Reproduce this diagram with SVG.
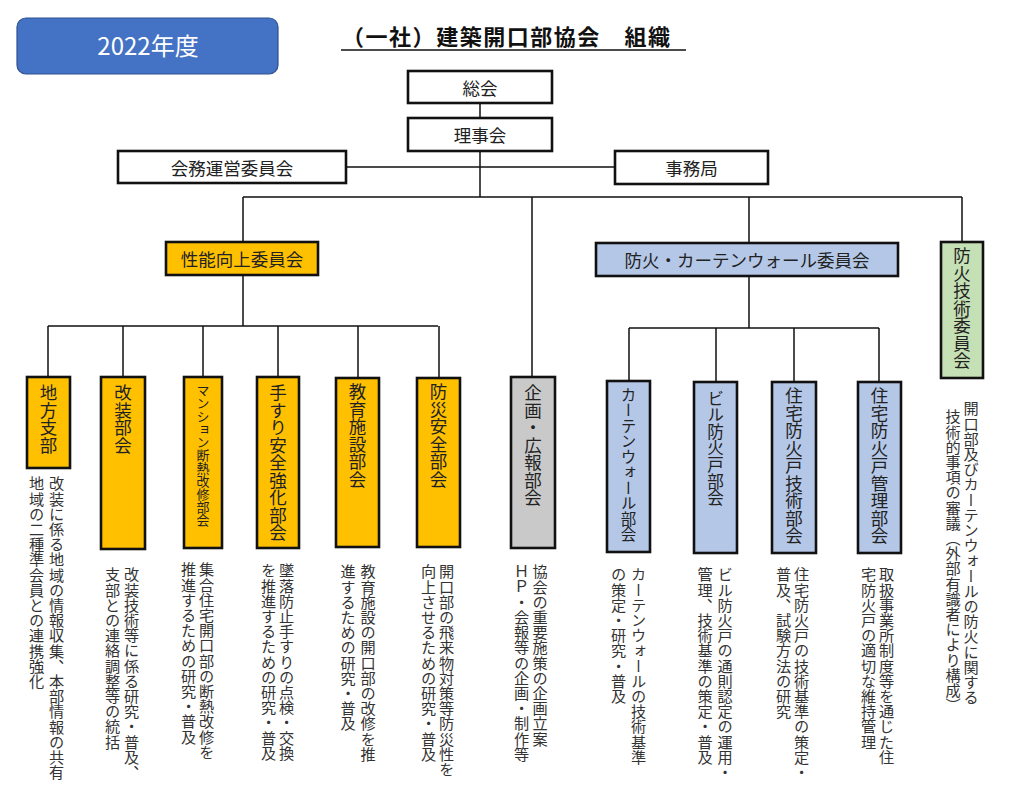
<svg xmlns="http://www.w3.org/2000/svg" width="1010" height="800" viewBox="0 0 1010 800">
<style>
text{font-family:"Noto Sans CJK JP","Noto Sans",sans-serif;}
.box{stroke:#111;stroke-width:2.6;}
.w{fill:#fff;}
.o{fill:#FFC000;}
.b{fill:#B4C7E7;}
.g{fill:#C9C9C9;}
.gr{fill:#C5E0B4;}
.lh{font-size:17.5px;fill:#222;text-anchor:middle;dominant-baseline:central;}
.lv{font-size:17.5px;fill:#222;writing-mode:vertical-rl;}
.d{font-size:15.2px;fill:#333;writing-mode:vertical-rl;}
.cn{fill:none;stroke:#111;stroke-width:1.5;}
</style>
<rect width="1010" height="800" fill="#fff"/>
<g id="year">
<rect x="17" y="18" width="261" height="56" rx="9" fill="#4472C4" stroke="#2F528F" stroke-width="1.2"/>
<text x="148" y="55" font-size="24" fill="#fff" text-anchor="middle">2022年度</text>
</g>
<g id="title">
<text x="342" y="45" font-size="22" font-weight="bold" fill="#111" textLength="328" lengthAdjust="spacing">（一社）建築開口部協会　組織</text>
<line x1="341" y1="50" x2="686" y2="50" stroke="#111" stroke-width="1.5"/>
</g>
<g id="connectors" class="cn">
<path d="M480,103V118M480,151V197M346,167H615M243,197H962M243,197V242M532,197V377M749,197V243M962,197V242"/>
<path d="M243,275V326M48,326H438M48,326V377M123,326V377M203,326V377M278,326V377M358,326V378M439,326V378"/>
<path d="M749,276V328M629,328H879M629,328V381M716,328V382M794,328V382M879,328V382"/>
</g>
<g id="soukai"><rect class="box w" x="408" y="71" width="144" height="32"/><text class="lh" x="480" y="87">総会</text></g>
<g id="rijikai"><rect class="box w" x="408" y="118" width="144" height="33"/><text class="lh" x="480" y="134.5">理事会</text></g>
<g id="kaimu"><rect class="box w" x="118" y="151" width="228" height="32"/><text class="lh" x="232" y="167">会務運営委員会</text></g>
<g id="jimukyoku"><rect class="box w" x="615" y="151" width="153" height="33"/><text class="lh" x="691.5" y="167.5">事務局</text></g>
<g id="seino"><rect class="box o" x="166" y="242" width="152" height="33"/><text class="lh" x="242" y="258.5">性能向上委員会</text></g>
<g id="bouka-cw"><rect class="box b" x="596" y="243" width="302" height="33"/><text class="lh" x="747" y="259.5">防火・カーテンウォール委員会</text></g>
<g id="bouka-gijutsu">
<rect class="box gr" x="941" y="242" width="42" height="136"/>
<text class="lv" x="962" y="247">防火技術委員会</text>
<text class="d" x="971" y="401">開口部及びカーテンウォールの防火に関する</text>
<text class="d" x="953" y="409">技術的事項の審議（外部有識者により構成）</text>
</g>
<g id="chiho">
<rect class="box o" x="27" y="377" width="43" height="91"/>
<text class="lv" x="48.5" y="384">地方支部</text>
<text class="d" x="56.5" y="476">改装に係る地域の情報収集、本部情報の共有</text>
<text class="d" x="36.5" y="476">地域の二種準会員との連携強化</text>
</g>
<g id="kaiso">
<rect class="box o" x="101" y="377" width="44" height="172"/>
<text class="lv" x="123" y="384">改装部会</text>
<text class="d" x="131.5" y="567">改装技術等に係る研究・普及、</text>
<text class="d" x="112.5" y="567">支部との連絡調整等の統括</text>
</g>
<g id="mansion">
<rect class="box o" x="184" y="377" width="38" height="171"/>
<text class="lv" x="203" y="384" style="font-size:13px">マンション断熱改修部会</text>
<text class="d" x="206.5" y="562">集合住宅開口部の断熱改修を</text>
<text class="d" x="188.5" y="562">推進するための研究・普及</text>
</g>
<g id="tesuri">
<rect class="box o" x="257" y="377" width="42" height="171"/>
<text class="lv" x="278" y="384">手すり安全強化部会</text>
<text class="d" x="286.5" y="563">墜落防止手すりの点検・交換</text>
<text class="d" x="268.5" y="563">を推進するための研究・普及</text>
</g>
<g id="kyoiku">
<rect class="box o" x="336" y="378" width="43" height="169"/>
<text class="lv" x="357.5" y="383">教育施設部会</text>
<text class="d" x="368" y="564">教育施設の開口部の改修を推</text>
<text class="d" x="348" y="564">進するための研究・普及</text>
</g>
<g id="bosai">
<rect class="box o" x="417" y="378" width="43" height="169"/>
<text class="lv" x="438.5" y="383">防災安全部会</text>
<text class="d" x="446.5" y="564">開口部の飛来物対策等防災性を</text>
<text class="d" x="428.5" y="564">向上させるための研究・普及</text>
</g>
<g id="kikaku">
<rect class="box g" x="511" y="377" width="44" height="171"/>
<text class="lv" x="533" y="384">企画・広報部会</text>
<text class="d" x="540" y="564">協会の重要施策の企画立案</text>
<text class="d" x="521.5" y="564">ＨＰ・会報等の企画・制作等</text>
</g>
<g id="cw">
<rect class="box b" x="607" y="381" width="43" height="171"/>
<text class="lv" x="628.5" y="387" style="font-size:15.5px">カーテンウォール部会</text>
<text class="d" x="638.5" y="567">カーテンウォールの技術基準</text>
<text class="d" x="618.5" y="567">の策定・研究・普及</text>
</g>
<g id="biru">
<rect class="box b" x="694" y="382" width="43" height="171"/>
<text class="lv" x="715.5" y="390" style="font-size:16.6px">ビル防火戸部会</text>
<text class="d" x="725" y="567">ビル防火戸の通則認定の運用・</text>
<text class="d" x="705" y="567">管理、技術基準の策定・普及</text>
</g>
<g id="jutaku-gijutsu">
<rect class="box b" x="772" y="382" width="44" height="171"/>
<text class="lv" x="794" y="387">住宅防火戸技術部会</text>
<text class="d" x="801.5" y="567">住宅防火戸の技術基準の策定・</text>
<text class="d" x="783.5" y="567">普及、試験方法の研究</text>
</g>
<g id="jutaku-kanri">
<rect class="box b" x="858" y="382" width="43" height="171"/>
<text class="lv" x="879.5" y="387">住宅防火戸管理部会</text>
<text class="d" x="886.5" y="567">取扱事業所制度等を通じた住</text>
<text class="d" x="868.5" y="567">宅防火戸の適切な維持管理</text>
</g>
</svg>
